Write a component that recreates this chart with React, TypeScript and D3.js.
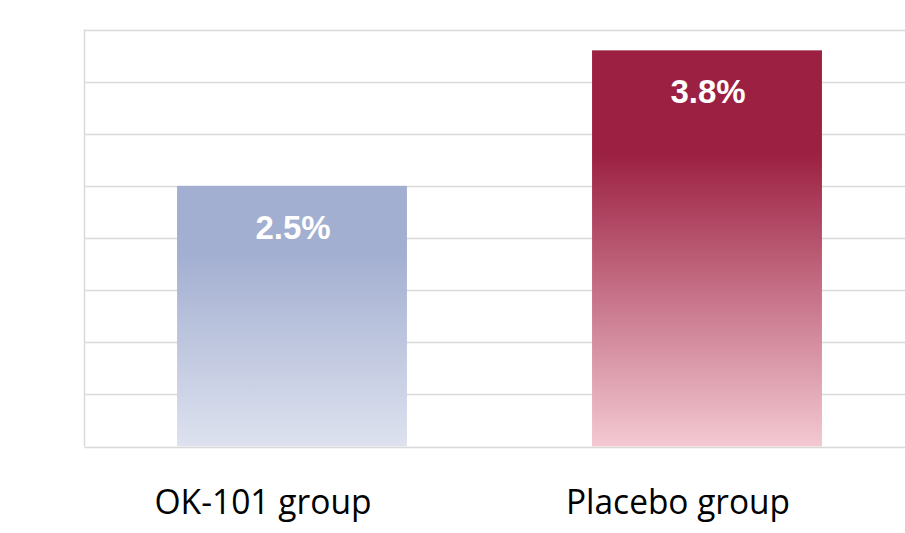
import React from "react";
import * as d3 from "d3";

const categories = ["OK-101 group", "Placebo group"];
const values = [2.5, 3.8];
const valueLabels = ["2.5%", "3.8%"];
const yTicks = [0, 0.5, 1, 1.5, 2, 2.5, 3, 3.5, 4];
const topColors = ["#a3afd1", "#9c2042"];
const bottomColors = ["#dee2ef", "#f3c9d2"];

const W = 905;
const H = 533;
const plotLeft = 84.5;
const plotRight = 914.5;
const plotTop = 29.5;
const plotBottom = 446.5;

export default function App() {
  const x = d3
    .scaleBand<string>()
    .domain(categories)
    .range([plotLeft, plotRight])
    .paddingInner(0.446)
    .paddingOuter(0.223);
  const y = d3.scaleLinear().domain([0, 4]).range([plotBottom, plotTop]);

  return (
    <svg
      width={W}
      height={H}
      style={{ position: "absolute", left: 0, top: 0, background: "#fff" }}
    >
      <defs>
        {categories.map((c, i) => (
          <linearGradient key={c} id={`bar-grad-${i}`} x1="0" y1="0" x2="0" y2="1">
            <stop offset="0" stopColor={topColors[i]} />
            <stop offset="0.26" stopColor={topColors[i]} />
            <stop offset="1" stopColor={bottomColors[i]} />
          </linearGradient>
        ))}
      </defs>
      {/* horizontal gridlines */}
      {yTicks.map((t) => (
        <line
          key={t}
          x1={plotLeft}
          x2={plotRight}
          y1={Math.round(y(t)) + 0.5}
          y2={Math.round(y(t)) + 0.5}
          stroke="#d9d9d9"
          strokeWidth={1.5}
        />
      ))}
      {/* left border */}
      <line x1={plotLeft} x2={plotLeft} y1={plotTop} y2={plotBottom} stroke="#d9d9d9" strokeWidth={1.5} />
      {/* bars */}
      {categories.map((c, i) => (
        <rect
          key={c}
          x={x(c)}
          y={y(values[i])}
          width={x.bandwidth()}
          height={plotBottom - y(values[i])}
          fill={`url(#bar-grad-${i})`}
        />
      ))}
      {/* value labels */}
      {categories.map((c, i) => (
        <text
          key={c}
          x={(x(c) as number) + x.bandwidth() / 2 + 1}
          y={y(values[i]) + 53}
          textAnchor="middle"
          fill="#ffffff"
          fontFamily="'Liberation Sans', Arial, sans-serif"
          fontWeight="bold"
          fontSize={33}
        >
          {valueLabels[i]}
        </text>
      ))}
      {/* category labels */}
      {categories.map((c) => (
        <text
          key={c}
          x={(x(c) as number) + x.bandwidth() / 2 - 29}
          y={514}
          textAnchor="middle"
          fill="#000000"
          fontFamily="'Open Sans', sans-serif"
          fontSize={34}
          textLength={c === "OK-101 group" ? 217 : 224}
          lengthAdjust="spacingAndGlyphs"
        >
          {c}
        </text>
      ))}
    </svg>
  );
}
